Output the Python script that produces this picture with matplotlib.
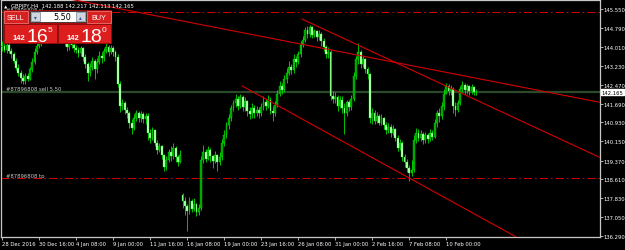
import numpy as np
import matplotlib
matplotlib.use("Agg")
import matplotlib.pyplot as plt
from matplotlib import font_manager
from matplotlib.transforms import blended_transform_factory
from matplotlib.patches import Rectangle

# GBPJPY H4 candles, one row = 16 bars (one date label step)
closes = [
    144.05, 143.90, 144.10, 143.85, 143.70, 143.45, 143.15, 142.95, 142.75, 142.60, 142.80, 142.70, 143.10, 143.40, 143.80, 144.05,
    144.15, 144.35, 144.55, 144.70, 144.60, 144.85, 145.00, 144.90, 144.75, 144.60, 144.45, 144.20, 144.00, 144.25, 144.10, 143.95,
    143.90, 143.75, 143.95, 143.60, 143.30, 142.95, 143.20, 143.45, 143.10, 143.40, 143.65, 143.55, 143.85, 144.00, 143.80, 143.95,
    143.80, 143.60, 142.50, 141.60, 141.70, 141.45, 141.30, 140.90, 140.70, 141.10, 141.30, 141.10, 141.25, 141.05, 141.20, 140.50,
    140.30, 140.60, 140.10, 139.80, 139.95, 139.60, 139.10, 139.40, 139.70, 139.55, 139.90, 139.50, 139.30, 139.60, 137.70, 137.50,
    137.30, 137.70, 137.40, 137.60, 137.25, 137.45, 139.40, 139.70, 139.45, 139.80, 139.55, 139.35, 139.60, 139.30, 139.50, 140.10,
    140.40, 140.80, 141.10, 141.50, 141.70, 141.90, 141.60, 141.95, 141.55, 141.80, 141.40, 141.25, 141.50, 141.30, 141.45, 141.30,
    141.55, 141.75, 141.60, 141.85, 141.40, 141.30, 141.65, 142.10, 142.40, 142.25, 142.70, 142.95, 143.20, 143.05, 143.50, 143.40,
    143.70, 144.10, 144.30, 144.70, 144.55, 144.80, 144.50, 144.65, 144.40, 144.55, 144.25, 144.00, 143.70, 143.80, 142.00, 141.90,
    141.95, 141.60, 141.85, 141.50, 141.30, 141.75, 141.55, 141.90, 142.80, 143.50, 143.80, 143.30, 143.50, 143.10, 142.90, 141.10,
    141.30, 141.00, 141.20, 140.90, 141.10, 140.80, 140.60, 140.75, 140.50, 140.65, 140.30, 139.90, 140.10, 139.50, 139.30, 139.05,
    138.85, 139.00, 140.20, 140.50, 140.30, 140.45, 140.20, 140.40, 140.25, 140.50, 140.35, 140.90, 141.30, 141.20, 141.60, 142.10,
    142.40, 142.20, 142.30, 141.60, 141.45, 141.70, 142.30, 142.45, 142.25, 142.40, 142.20, 142.35, 142.15, 142.17,
]
highs = [
    144.25, 144.20, 144.25, 144.20, 143.95, 143.80, 143.55, 143.30, 143.05, 142.90, 142.95, 142.95, 143.20, 143.55, 143.95, 144.25,
    144.30, 144.50, 144.70, 144.85, 144.80, 145.00, 145.20, 145.10, 144.95, 144.80, 144.65, 144.50, 144.30, 144.40, 144.35, 144.20,
    144.10, 144.00, 144.05, 144.00, 143.70, 143.40, 143.35, 143.60, 143.50, 143.55, 143.85, 143.80, 143.95, 144.15, 144.10, 144.10,
    144.05, 143.90, 143.70, 142.60, 141.90, 141.80, 141.55, 141.40, 141.05, 141.25, 141.45, 141.40, 141.40, 141.35, 141.30, 141.30,
    140.65, 140.75, 140.65, 140.20, 140.10, 140.00, 139.65, 139.55, 139.85, 139.95, 140.10, 139.95, 139.60, 139.80, 138.05, 137.90,
    137.60, 137.90, 137.80, 137.85, 137.65, 137.60, 139.55, 140.00, 139.85, 139.95, 139.90, 139.60, 139.75, 139.65, 139.70, 140.25,
    140.60, 140.95, 141.25, 141.65, 141.85, 142.10, 142.00, 142.10, 142.05, 141.95, 141.85, 141.55, 141.70, 141.65, 141.60, 141.55,
    141.70, 142.00, 141.90, 142.05, 141.95, 141.60, 141.80, 142.25, 142.60, 142.55, 142.85, 143.15, 143.45, 143.30, 143.70, 143.65,
    143.85, 144.25, 144.45, 144.80, 144.85, 144.90, 144.85, 144.75, 144.70, 144.70, 144.60, 144.35, 144.10, 144.00, 143.90, 142.20,
    142.15, 142.05, 142.00, 142.00, 141.70, 141.85, 141.85, 142.05, 143.00, 143.65, 144.15, 143.90, 143.65, 143.55, 143.20, 142.95,
    141.50, 141.45, 141.35, 141.25, 141.25, 141.15, 140.95, 140.90, 140.85, 140.80, 140.70, 140.40, 140.25, 140.15, 139.65, 139.45,
    139.20, 139.40, 140.40, 140.70, 140.65, 140.60, 140.55, 140.55, 140.50, 140.65, 140.60, 141.05, 141.45, 141.50, 141.75, 142.30,
    142.55, 142.50, 142.45, 142.35, 141.75, 141.85, 142.40, 142.60, 142.55, 142.50, 142.45, 142.50, 142.40, 142.30,
]
lows = [
    143.85, 143.80, 143.75, 143.75, 143.55, 143.35, 143.05, 142.80, 142.55, 142.50, 142.50, 142.60, 142.65, 143.00, 143.30, 143.70,
    143.95, 144.05, 144.25, 144.45, 144.45, 144.50, 144.75, 144.75, 144.60, 144.45, 144.30, 144.05, 143.85, 143.90, 143.95, 143.80,
    143.75, 143.60, 143.65, 143.45, 143.15, 142.60, 142.80, 143.05, 142.70, 142.95, 143.30, 143.35, 143.45, 143.75, 143.65, 143.70,
    143.65, 143.45, 142.35, 141.35, 141.45, 141.25, 141.10, 140.70, 140.45, 140.60, 141.00, 140.95, 140.95, 140.90, 140.85, 140.20,
    140.10, 140.20, 139.95, 139.65, 139.70, 139.45, 138.95, 139.00, 139.30, 139.35, 139.45, 139.30, 139.15, 139.25, 137.45, 137.15,
    136.50, 137.20, 137.25, 137.30, 137.10, 137.15, 137.35, 139.25, 139.30, 139.40, 139.30, 139.05, 139.25, 138.95, 139.20, 139.40,
    139.95, 140.30, 140.65, 141.00, 141.40, 141.55, 141.45, 141.50, 141.40, 141.40, 141.20, 141.05, 141.10, 141.10, 141.20, 141.10,
    141.20, 141.45, 141.45, 141.50, 141.25, 141.00, 141.20, 141.55, 142.00, 142.10, 142.15, 142.55, 142.85, 142.90, 142.95, 143.20,
    143.30, 143.60, 144.00, 144.20, 144.35, 144.40, 144.35, 144.40, 144.25, 144.30, 144.05, 143.85, 143.55, 143.55, 141.85, 141.70,
    141.70, 141.40, 141.50, 141.30, 140.45, 141.20, 141.40, 141.45, 141.80, 142.70, 143.30, 143.15, 143.20, 142.95, 142.70, 140.90,
    140.85, 140.85, 140.90, 140.80, 140.80, 140.65, 140.45, 140.50, 140.35, 140.40, 140.15, 139.75, 139.80, 139.35, 139.10, 138.90,
    138.55, 138.75, 138.90, 140.10, 140.15, 140.15, 140.05, 140.10, 140.10, 140.15, 140.20, 140.30, 140.75, 140.95, 141.05, 141.45,
    142.10, 142.05, 142.05, 141.30, 141.20, 141.35, 141.65, 142.15, 142.10, 142.10, 142.05, 142.10, 142.05, 142.05,
]
first_open = 144.00
gap_bar, gap_open = 78, 137.95          # weekend gap, 16 Jan open

date_bars = [0, 16, 32, 48, 64, 80, 96, 112, 128, 144, 160, 176, 192]
date_labels = ["28 Dec 2016", "30 Dec 16:00", "4 Jan 08:00", "9 Jan 00:00", "11 Jan 16:00",
               "16 Jan 08:00", "19 Jan 00:00", "23 Jan 16:00", "26 Jan 08:00", "31 Jan 00:00",
               "2 Feb 16:00", "7 Feb 08:00", "10 Feb 00:00"]
price_ticks = [145.550, 144.790, 144.010, 143.230, 142.470, 141.690, 140.930,
               140.150, 139.370, 138.610, 137.830, 137.050, 136.290]

# trend lines: two anchor points (bar, price), drawn as rays to the right
trend_lines = [
    ((51.5, 145.55), (207.1, 142.69), -0.5),
    ((129.7, 145.14), (259.0, 139.47), 129.7),
    ((103.8, 142.41), (222.3, 136.25), 103.8),
]
sl_price, entry_price, tp_price = 145.42, 142.17, 138.64
bid, ask = 142.165, 142.180
lots = "5.50"
ohlc_text = "GBPJPY,H4  142.188 142.217 142.113 142.165"

names = {f.name for f in font_manager.fontManager.ttflist}
if "Liberation Sans Narrow" in names:
    small, fs = "Liberation Sans Narrow", 4.9
else:
    small, fs = "DejaVu Sans", 3.8
big = "Liberation Sans"
plt.rcParams["lines.scale_dashes"] = False

fig = plt.figure(figsize=(6.25, 2.51), dpi=100, facecolor="black")
ax = fig.add_axes([1 / 625, 13 / 251, 599 / 625, 237 / 251])
ax.set_facecolor("black")
ax.set_xlim(-0.5, 258.5)
ax.set_ylim(136.25, 145.92)

c = np.array(closes)
h = np.array(highs)
l = np.array(lows)
o = np.r_[first_open, c[:-1]]
o[gap_bar] = gap_open
x = np.arange(len(c))
up = c >= o
body = np.where(np.abs(c - o) < 0.03, np.where(up, 0.03, -0.03), c - o)

ax.vlines(x, l, h, color="#00e000", lw=0.6, zorder=3)
ax.bar(x[up], body[up], bottom=o[up], width=0.8, color="#009a00",
       edgecolor="#00ff00", linewidth=0.25, zorder=4)
ax.bar(x[~up], body[~up], bottom=o[~up], width=0.8, color="#c8ffc8",
       edgecolor="#00ff00", linewidth=0.25, zorder=4)

dashdot = (0, (5.8, 2.2, 1.2, 2.2))
ax.axhline(sl_price, color="#d80000", lw=0.7, ls=dashdot, zorder=2)
ax.axhline(tp_price, color="#d80000", lw=0.7, ls=dashdot, zorder=2)
ax.axhline(entry_price, color="#2a4a2a", lw=1.6, zorder=2)

for (x1, y1), (x2, y2), start in trend_lines:
    k = (y2 - y1) / (x2 - x1)
    xs = np.array([start, 258.5])
    ax.plot(xs, y1 + k * (xs - x1), color="#d40000", lw=0.8, zorder=5)

lab = blended_transform_factory(ax.transAxes, ax.transData)
for txt, p in [("#87896808 sl", sl_price), ("#87896808 sell 5.50", entry_price),
               ("#87896808 tp", tp_price)]:
    ax.annotate(txt, xy=(0, p), xycoords=lab, xytext=(5, 1.5), textcoords="offset pixels",
                va="baseline", ha="left", color="#c8c8c8", fontsize=fs, family=small, zorder=6)

for s in ax.spines.values():
    s.set_color("#c8c8c8")
    s.set_linewidth(0.9)

ax.yaxis.tick_right()
ax.set_yticks(price_ticks)
ax.set_yticklabels([f"{p:.3f}" for p in price_ticks], family=small, fontsize=fs, color="white")
ax.tick_params(axis="y", colors="#c8c8c8", labelcolor="white", length=2.2, width=0.6, pad=0.6)
ax.set_xticks(date_bars)
ax.set_xticklabels(date_labels, family=small, fontsize=fs, color="white", ha="left")
ax.tick_params(axis="x", colors="#c8c8c8", labelcolor="white", length=2.2, width=0.6, pad=0.8)

ax.text(1.003, bid, f"{bid:.3f}", transform=lab, ha="left", va="center", color="black",
        fontsize=fs, family=small,
        bbox=dict(boxstyle="square,pad=0.15", fc="white", ec="white"), clip_on=False)

# one-click trading panel and chart title, pixel coordinates
ov = fig.add_axes([0, 0, 1, 1])
ov.set_xlim(0, 625)
ov.set_ylim(251, 0)
ov.axis("off")
ov.patch.set_alpha(0)


def box(x0, y0, w, hh, fc, ec=None, lw=0.6):
    ov.add_patch(Rectangle((x0, y0), w, hh, fc=fc, ec=ec or fc, lw=lw))


ov.text(4, 8.3, "\u25b2", color="white", fontsize=3.2, va="baseline", family="DejaVu Sans")
ov.text(11, 8.3, ohlc_text, color="white", fontsize=fs, va="baseline", family=small)

box(3, 10.5, 108, 33.5, "#a80c0c")
box(4, 11.5, 24, 12, "#d82222", "#f07070")
box(86.5, 11.5, 24, 12, "#d82222", "#f07070")
box(29.5, 12, 56, 11, "#ffffff", "#303030")
box(30.5, 13, 9, 9, "#cfd6de", "#8a96a4")
box(75.5, 13, 9, 9, "#cfd6de", "#8a96a4")
box(4, 24.5, 53, 19, "#dc1e1e", "#8c0a0a")
box(58, 24.5, 53, 19, "#dc1e1e", "#8c0a0a")

ov.text(16, 20, "SELL", color="white", fontsize=5.2, ha="center", va="baseline", family=big)
ov.text(98.5, 20, "BUY", color="white", fontsize=5.2, ha="center", va="baseline", family=big)
ov.text(71, 20, lots, color="black", fontsize=5.8, ha="right", va="baseline", family="DejaVu Sans")
ov.text(35, 19, "\u25be", color="#3050a0", fontsize=4, ha="center", va="baseline", family="DejaVu Sans")
ov.text(80, 19, "\u25b4", color="#3050a0", fontsize=4, ha="center", va="baseline", family="DejaVu Sans")

for x0, price in [(13, bid), (67, ask)]:
    s = f"{price:.3f}"
    ov.text(x0, 40, s[:3], color="white", fontsize=5.5, fontweight="bold", va="baseline", family=big)
    ov.text(x0 + 13.5, 42, s[4:6], color="white", fontsize=14, va="baseline", family=big)
    ov.text(x0 + 34.5, 31.5, s[6], color="white", fontsize=6, va="baseline", family=big)

fig.savefig("out.png", dpi=100, facecolor="black")
